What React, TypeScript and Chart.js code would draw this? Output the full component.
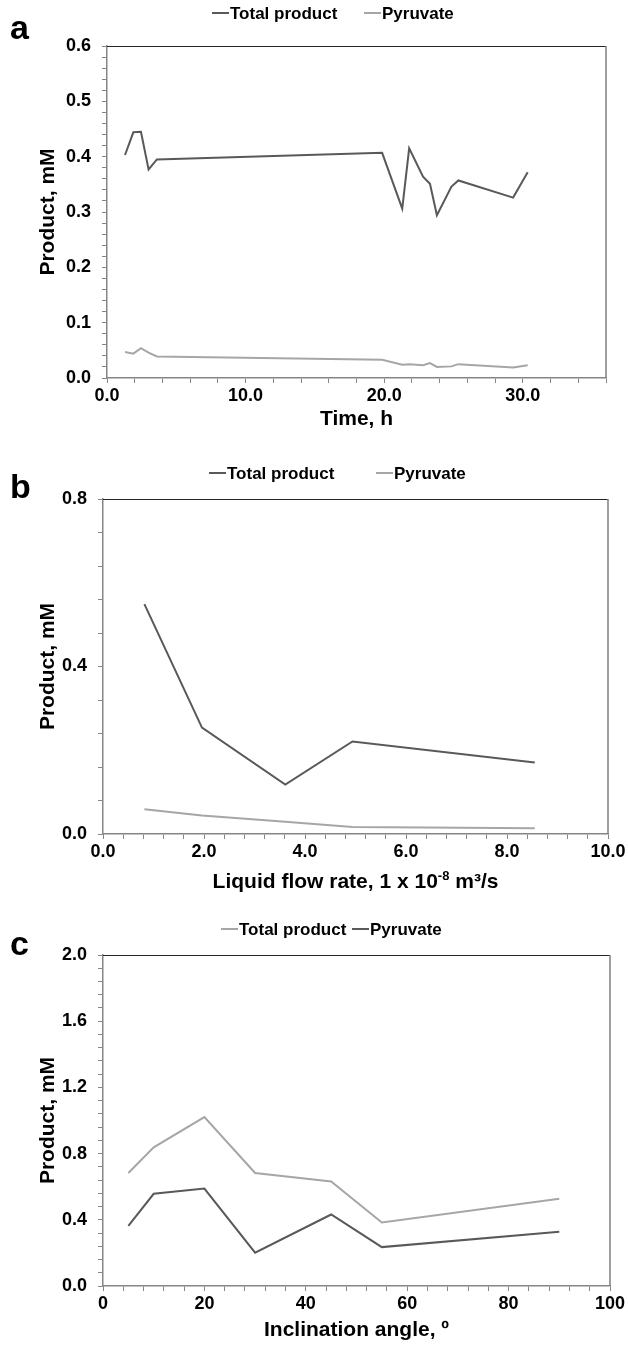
import React, { useEffect, useRef } from "react";
import { Chart, registerables } from "chart.js";

Chart.register(...registerables);

const FONT = "'Liberation Sans', Arial, Helvetica, sans-serif";
const DARK = "#595959";
const LIGHT = "#a6a6a6";
const AXIS = "#868686";

// Panel a: product concentration over time
const timeHours = [1.3, 1.9, 2.45, 3.0, 3.6, 19.85, 21.3, 21.8, 22.8, 23.3, 23.8, 24.85, 25.35, 29.3, 30.35];
const timeTotalProduct = [0.403, 0.444, 0.445, 0.377, 0.395, 0.407, 0.306, 0.415, 0.364, 0.351, 0.294, 0.346, 0.357, 0.326, 0.372];
const timePyruvate = [0.047, 0.044, 0.054, 0.046, 0.039, 0.033, 0.024, 0.025, 0.023, 0.027, 0.02, 0.021, 0.025, 0.019, 0.023];
const timeTickValues = [0, 10, 20, 30];
const timeTickLabels = ["0.0", "10.0", "20.0", "30.0"];
const productATickValues = [0, 0.1, 0.2, 0.3, 0.4, 0.5, 0.6];
const productATickLabels = ["0.0", "0.1", "0.2", "0.3", "0.4", "0.5", "0.6"];

// Panel b: product vs. liquid flow rate
const flowRate = [0.82, 1.96, 3.61, 4.94, 8.55];
const flowTotalProduct = [0.549, 0.254, 0.118, 0.221, 0.171];
const flowPyruvate = [0.059, 0.044, 0.029, 0.017, 0.014];
const flowTickValues = [0, 2, 4, 6, 8, 10];
const flowTickLabels = ["0.0", "2.0", "4.0", "6.0", "8.0", "10.0"];
const productBTickValues = [0, 0.4, 0.8];
const productBTickLabels = ["0.0", "0.4", "0.8"];

// Panel c: product vs. inclination angle
const angleDeg = [5, 10, 20, 30, 45, 55, 90];
const angleTotalProduct = [0.683, 0.838, 1.021, 0.683, 0.631, 0.384, 0.527];
const anglePyruvate = [0.364, 0.557, 0.589, 0.201, 0.432, 0.235, 0.328];
const angleTickValues = [0, 20, 40, 60, 80, 100];
const angleTickLabels = ["0", "20", "40", "60", "80", "100"];
const productCTickValues = [0, 0.4, 0.8, 1.2, 1.6, 2.0];
const productCTickLabels = ["0.0", "0.4", "0.8", "1.2", "1.6", "2.0"];

type Series = { label: string; xs: number[]; ys: number[]; color: string };

// An x-axis title is written as [text, superscript, text, ...] runs
type TitleRun = { text: string; sup?: boolean };

type PanelSpec = {
  letter: string;
  top: number;
  height: number;
  area: { left: number; top: number; right: number; bottom: number };
  x: { min: number; max: number; minor: number; values: number[]; labels: string[]; title: TitleRun[]; titlePad: number };
  y: { min: number; max: number; minor: number; values: number[]; labels: string[] };
  series: Series[];
  legendX: number[];
  legendY: number;
  letterY: number;
};

const WIDTH = 628;
const TITLE_SIZE = 21;
const SUP_SIZE = 13;

function stepValues(min: number, max: number, step: number): number[] {
  const out: number[] = [];
  const n = Math.round((max - min) / step);
  for (let i = 0; i <= n; i++) out.push(Math.round((min + i * step) * 1e6) / 1e6);
  return out;
}

function labelFor(values: number[], labels: string[]) {
  return (v: number | string) => {
    const i = values.findIndex((m) => Math.abs(m - Number(v)) < 1e-9);
    return i >= 0 ? labels[i] : "";
  };
}

const panels: PanelSpec[] = [
  {
    letter: "a",
    top: 0,
    height: 440,
    area: { left: 107, top: 46, right: 606, bottom: 378 },
    x: { min: 0, max: 36, minor: 2, values: timeTickValues, labels: timeTickLabels, title: [{ text: "Time, h" }], titlePad: 10 },
    y: { min: 0, max: 0.6, minor: 0.02, values: productATickValues, labels: productATickLabels },
    series: [
      { label: "Total product", xs: timeHours, ys: timeTotalProduct, color: DARK },
      { label: "Pyruvate", xs: timeHours, ys: timePyruvate, color: LIGHT },
    ],
    legendX: [212, 364],
    legendY: 13,
    letterY: 39,
  },
  {
    letter: "b",
    top: 440,
    height: 460,
    area: { left: 103, top: 59, right: 608, bottom: 394 },
    x: {
      min: 0,
      max: 10,
      minor: 0.4,
      values: flowTickValues,
      labels: flowTickLabels,
      title: [{ text: "Liquid flow rate, 1 x 10" }, { text: "-8", sup: true }, { text: " m³/s" }],
      titlePad: 7,
    },
    y: { min: 0, max: 0.8, minor: 0.08, values: productBTickValues, labels: productBTickLabels },
    series: [
      { label: "Total product", xs: flowRate, ys: flowTotalProduct, color: DARK },
      { label: "Pyruvate", xs: flowRate, ys: flowPyruvate, color: LIGHT },
    ],
    legendX: [209, 376],
    legendY: 33,
    letterY: 58,
  },
  {
    letter: "c",
    top: 900,
    height: 451,
    area: { left: 103, top: 55, right: 610, bottom: 386 },
    x: { min: 0, max: 100, minor: 4, values: angleTickValues, labels: angleTickLabels, title: [{ text: "Inclination angle, º" }], titlePad: 10 },
    y: { min: 0, max: 2, minor: 0.08, values: productCTickValues, labels: productCTickLabels },
    series: [
      { label: "Total product", xs: angleDeg, ys: angleTotalProduct, color: LIGHT },
      { label: "Pyruvate", xs: angleDeg, ys: anglePyruvate, color: DARK },
    ],
    legendX: [221, 352],
    legendY: 29,
    letterY: 55,
  },
];

function Panel({ spec }: { spec: PanelSpec }) {
  const ref = useRef<HTMLCanvasElement | null>(null);

  useEffect(() => {
    const canvas = ref.current;
    if (!canvas) return;
    const { area } = spec;

    const decor = {
      id: "panelDecor",
      afterDraw(chart: any) {
        const { ctx, chartArea: ca } = chart;
        ctx.save();
        // frame: top and right edges of the plot area
        ctx.strokeStyle = "#262626";
        ctx.lineWidth = 1;
        ctx.beginPath();
        ctx.moveTo(ca.left, Math.round(ca.top) + 0.5);
        ctx.lineTo(ca.right, Math.round(ca.top) + 0.5);
        ctx.stroke();
        ctx.strokeStyle = "#7f7f7f";
        ctx.lineWidth = 1.5;
        ctx.beginPath();
        ctx.moveTo(ca.right, ca.top);
        ctx.lineTo(ca.right, ca.bottom);
        ctx.stroke();

        // panel letter
        ctx.fillStyle = "#000";
        ctx.font = `bold 34px ${FONT}`;
        ctx.textAlign = "left";
        ctx.textBaseline = "alphabetic";
        ctx.fillText(spec.letter, 10, spec.letterY);

        // x-axis title, with raised runs for exponents
        const mainFont = `bold ${TITLE_SIZE}px ${FONT}`;
        const supFont = `bold ${SUP_SIZE}px ${FONT}`;
        const widths = spec.x.title.map((r) => {
          ctx.font = r.sup ? supFont : mainFont;
          return ctx.measureText(r.text).width;
        });
        const total = widths.reduce((a, b) => a + b, 0);
        let tx = (ca.left + ca.right) / 2 - total / 2;
        const baseY = spec.height - spec.x.titlePad - 5;
        ctx.textBaseline = "alphabetic";
        spec.x.title.forEach((r, i) => {
          ctx.font = r.sup ? supFont : mainFont;
          ctx.fillText(r.text, tx, r.sup ? baseY - 8 : baseY);
          tx += widths[i];
        });

        // legend
        ctx.font = `bold 17px ${FONT}`;
        ctx.textBaseline = "middle";
        chart.data.datasets.forEach((ds: any, i: number) => {
          const x0 = spec.legendX[i];
          ctx.strokeStyle = ds.borderColor;
          ctx.lineWidth = 2;
          ctx.beginPath();
          ctx.moveTo(x0, spec.legendY);
          ctx.lineTo(x0 + 17, spec.legendY);
          ctx.stroke();
          ctx.fillStyle = "#000";
          ctx.fillText(ds.label, x0 + 18, spec.legendY + 1);
        });
        ctx.restore();
      },
    };

    const xTicks = stepValues(spec.x.min, spec.x.max, spec.x.minor);
    const yTicks = stepValues(spec.y.min, spec.y.max, spec.y.minor);

    const chart = new Chart(canvas, {
      type: "scatter",
      data: {
        datasets: spec.series.map((s) => ({
          label: s.label,
          data: s.xs.map((x, i) => ({ x, y: s.ys[i] })),
          showLine: true,
          borderColor: s.color,
          backgroundColor: s.color,
          borderWidth: 2,
          pointRadius: 0,
          tension: 0,
        })),
      },
      options: {
        animation: false,
        responsive: false,
        devicePixelRatio: 1,
        layout: { padding: { top: area.top, right: WIDTH - area.right, bottom: 0, left: 0 } },
        plugins: { legend: { display: false }, tooltip: { enabled: false } },
        scales: {
          x: {
            type: "linear",
            min: spec.x.min,
            max: spec.x.max,
            afterBuildTicks: (scale: any) => {
              scale.ticks = xTicks.map((v) => ({ value: v }));
            },
            afterFit: (scale: any) => {
              scale.height = spec.height - area.bottom;
            },
            ticks: {
              autoSkip: false,
              maxRotation: 0,
              minRotation: 0,
              padding: 2,
              color: "#000",
              font: { family: FONT, size: 18, weight: "bold" },
              callback: labelFor(spec.x.values, spec.x.labels),
            },
            grid: { display: true, drawOnChartArea: false, drawTicks: true, tickLength: 5, color: AXIS, lineWidth: 1 },
            border: { display: true, color: AXIS, width: 1.5 },
          },
          y: {
            type: "linear",
            min: spec.y.min,
            max: spec.y.max,
            afterBuildTicks: (scale: any) => {
              scale.ticks = yTicks.map((v) => ({ value: v }));
            },
            afterFit: (scale: any) => {
              scale.width = area.left;
            },
            ticks: {
              autoSkip: false,
              padding: 11,
              color: "#000",
              font: { family: FONT, size: 18, weight: "bold" },
              callback: labelFor(spec.y.values, spec.y.labels),
            },
            grid: { display: true, drawOnChartArea: false, drawTicks: true, tickLength: 5, color: AXIS, lineWidth: 1 },
            border: { display: true, color: AXIS, width: 1.5 },
            title: {
              display: true,
              text: "Product, mM",
              color: "#000",
              font: { family: FONT, size: TITLE_SIZE, weight: "bold" },
              padding: { top: 36, bottom: 0 },
            },
          },
        },
      },
      plugins: [decor],
    } as any);

    return () => chart.destroy();
  }, [spec]);

  return (
    <canvas
      ref={ref}
      width={WIDTH}
      height={spec.height}
      style={{ position: "absolute", left: 0, top: spec.top, width: WIDTH, height: spec.height }}
    />
  );
}

export default function App() {
  return (
    <div style={{ position: "absolute", left: 0, top: 0, width: WIDTH, height: 1351, background: "#fff" }}>
      {panels.map((p) => (
        <Panel key={p.letter} spec={p} />
      ))}
    </div>
  );
}
